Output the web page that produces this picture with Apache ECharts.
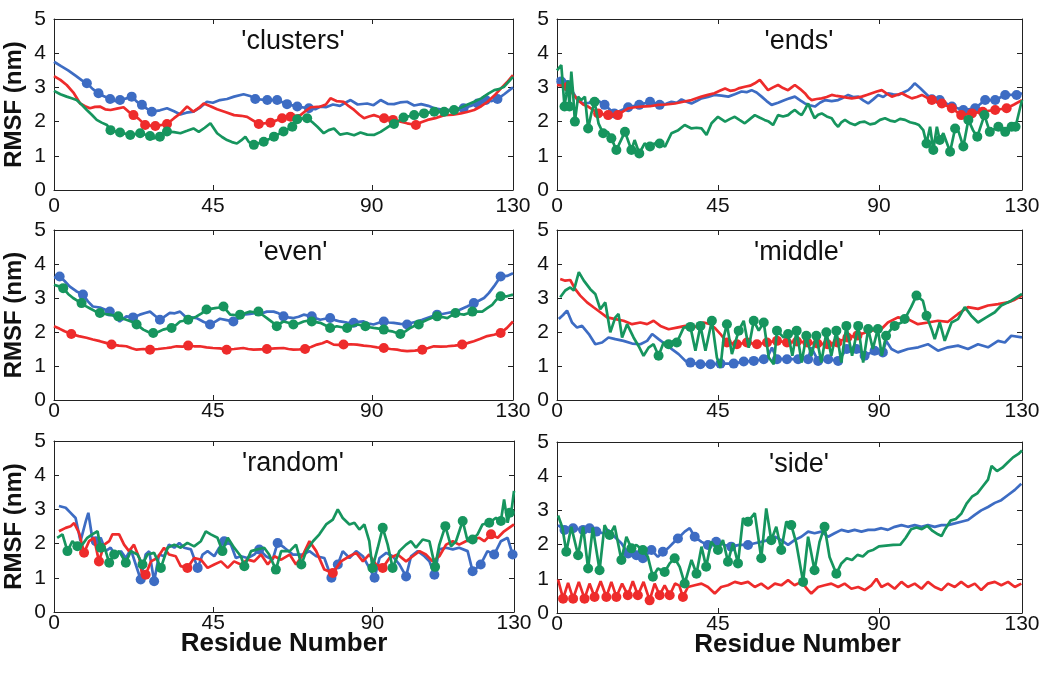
<!DOCTYPE html>
<html><head><meta charset="utf-8">
<script src="https://cdn.jsdelivr.net/npm/echarts@6/dist/echarts.min.js"></script>
<style>html,body{margin:0;padding:0;background:#fff}#c{width:1050px;height:673px}</style>
</head><body><div id="c"></div><script>
// ---- data: [residue, RMSF, marked(1)] ----
const panelTitles = ["'clusters'", "'ends'", "'even'", "'middle'", "'random'", "'side'"];
const xTickValues = [0, 45, 90, 130];
const yTickValues = [0, 1, 2, 3, 4, 5];

const clustersBlue = [[0,3.75],[2,3.62],[4,3.5],[6,3.35],[8,3.2],[9.3,3.12,1],[11,2.95],[12.6,2.83,1],[14,2.75],[15.9,2.66,1],[17.3,2.6],[18.7,2.63,1],[20.5,2.68],[22,2.73,1],[23.5,2.58],[24.9,2.49,1],[26.3,2.38],[27.7,2.29,1],[30,2.33],[32,2.39],[34,2.3],[35.8,2.21],[37.5,2.26],[39.5,2.29],[41.5,2.42],[43.3,2.58],[45,2.55],[47,2.63],[49,2.66],[51,2.73],[53.7,2.8],[55.5,2.75],[57,2.66,1],[60.4,2.63,1],[63.2,2.63,1],[66,2.51,1],[68.9,2.44,1],[72.2,2.39,1],[74,2.36],[75.5,2.44],[77,2.42],[79,2.5],[81,2.46],[82.5,2.55],[84,2.63],[86,2.5],[88.7,2.53],[90.5,2.48],[92.5,2.63],[94.5,2.52],[96.3,2.51],[98,2.56],[100,2.58],[102,2.47],[104,2.51],[106,2.46],[107.7,2.39],[109.5,2.36],[111.4,2.34],[113.5,2.36],[115,2.34],[116,2.39,1],[118,2.46],[120,2.53,1],[122.3,2.63,1],[124,2.6],[125.6,2.66,1],[127.5,2.8],[130,3.0]];
const clustersRed = [[0,3.33],[1.8,3.22],[3.6,3.07],[5.5,2.85],[7.4,2.53],[8.8,2.45],[10.2,2.39],[11.6,2.43],[13,2.44],[14.5,2.36],[16,2.34],[17.8,2.38],[19.7,2.42],[21,2.3],[22.5,2.19,1],[24,2.08],[25.8,1.9,1],[28.7,1.87,1],[32,1.93,1],[34,2.1],[35.8,2.24],[37.7,2.44],[39.5,2.29],[41,2.4],[42.4,2.53],[44.3,2.45],[46.2,2.36],[48.5,2.28],[51,2.19],[53,2.17],[54.7,2.14],[58,1.93,1],[61.3,1.97,1],[64.6,2.1,1],[67,2.14,1],[69.8,2.19],[71.5,2.33],[72.7,2.42],[75.5,2.44],[77,2.5],[78.3,2.68],[80,2.6],[82,2.58],[83.5,2.45],[85,2.34],[86.5,2.2],[87.8,2.1],[89.2,2.15],[90.6,2.19],[92,2.14],[93.5,2.1,1],[96,2.05,1],[98.2,2.0],[100,1.95],[102.5,1.9,1],[104,1.98],[105.8,2.05],[108,2.1],[110.5,2.19],[113,2.2],[115.2,2.24],[117,2.28],[119,2.34],[121,2.45],[122.8,2.58],[124.7,2.76],[126.6,2.97],[128.3,3.15],[130,3.36]];
const clustersGreen = [[0,2.9],[1.8,2.8],[3.6,2.73],[5,2.68],[6.4,2.63],[7.8,2.5],[9.3,2.34],[10.7,2.2],[12.1,2.05],[13.5,1.97],[15,1.9],[16,1.75,1],[18.7,1.68,1],[21.6,1.61,1],[24.4,1.66,1],[27.2,1.58,1],[28.2,1.51],[30,1.56,1],[32,1.71,1],[34,1.69],[35.8,1.66],[37.7,1.73],[39.5,1.8],[41,1.7],[42.7,1.82],[44.3,1.95],[46.2,1.66],[47.6,1.55],[49,1.46],[50.4,1.4],[51.8,1.36],[53,1.45],[54.2,1.56],[55.2,1.4],[56.6,1.32,1],[59.4,1.41,1],[62.3,1.56,1],[65,1.71,1],[67.5,1.85,1],[68.9,2.07,1],[71.7,2.1,1],[73.2,1.98],[74.6,1.85],[76.4,1.66],[77.8,1.75],[79.3,1.8],[81,1.62],[83,1.66],[85,1.6],[86.8,1.68],[88.7,1.62],[90.6,1.61],[92.5,1.7],[94,1.8],[95.4,1.9],[96.3,1.93,1],[99,2.12,1],[102,2.19,1],[104.8,2.24,1],[107.7,2.29,1],[110.5,2.29,1],[113.3,2.34,1],[115,2.4],[117,2.49],[119,2.58],[121,2.68],[123,2.82],[124.7,2.92],[126,2.95],[127.5,3.02],[130,3.31]];

const endsBlue = [[0,3.27],[1.2,3.17,1],[3,3.07,1],[4.5,2.85],[5.9,2.6],[7.5,2.53],[9,2.55],[10.5,2.68],[12,2.58],[13.3,2.49,1],[16,2.24,1],[19.9,2.42,1],[23,2.49,1],[26,2.58,1],[28.7,2.49,1],[30.5,2.52],[32,2.58],[33.5,2.55],[34.8,2.65],[36.2,2.58],[37.6,2.53],[39,2.6],[40.4,2.68],[42.2,2.72],[44,2.78],[46,2.76],[47.9,2.73],[49.7,2.8],[51.6,2.88],[53,2.86],[54.4,2.92],[55.8,2.85],[57.2,2.73],[58.6,2.6],[60,2.49],[61.8,2.55],[63.7,2.63],[65,2.68],[66.5,2.73],[68,2.62],[69.3,2.53],[70.7,2.48],[72.1,2.44],[73.5,2.55],[75,2.63],[76.8,2.6],[78.6,2.63],[80,2.7],[81.4,2.78],[82.8,2.72],[84.2,2.73],[85.6,2.62],[87,2.53],[88.4,2.65],[89.8,2.78],[91.2,2.72],[92.6,2.83],[94,2.8],[95.4,2.78],[96.8,2.85],[98.2,2.92],[99.2,3.02],[100,3.12],[101.5,2.98],[103,2.83],[104.8,2.65,1],[107,2.63,1],[110.4,2.44,1],[113.6,2.34,1],[116.9,2.39,1],[119.7,2.63,1],[122.5,2.63,1],[125.3,2.78,1],[128.5,2.78,1],[130,2.83]];
const endsRed = [[0,3.07],[1.5,3.05],[3,3.02,1],[4.5,2.8],[5.9,2.63],[7.3,2.5],[8.7,2.44],[10,2.35],[11.5,2.24,1],[14.3,2.19,1],[17,2.19,1],[18.5,2.3],[20,2.39],[21.8,2.42],[23.6,2.44],[26,2.45],[28.3,2.49],[30.5,2.5],[33,2.53],[35.3,2.58],[37.6,2.63],[39,2.68],[40.4,2.73],[42.2,2.78],[44,2.83],[45.5,2.9],[47,2.97],[48.4,2.9],[49.7,2.92],[51,2.98],[52.5,3.02],[54,3.05],[55.3,3.12],[56.7,3.22],[58,3.05],[59,2.92],[60.4,3.0],[61.8,3.07],[63.2,2.98],[64.6,2.92],[65.6,3.0],[66.5,3.07],[68,2.95],[69.3,2.83],[70.3,2.7],[71.2,2.63],[72.6,2.66],[74,2.68],[75.4,2.72],[76.8,2.78],[78.2,2.75],[79.6,2.73],[81,2.7],[82.4,2.68],[83.8,2.7],[85.2,2.73],[86.6,2.78],[88,2.83],[89.4,2.88],[90.8,2.92],[92.2,2.82],[93.6,2.73],[95,2.78],[96.4,2.83],[97.8,2.75],[99.2,2.68],[100.6,2.72],[102,2.78],[103.4,2.7],[104.8,2.63,1],[107.6,2.53,1],[110.4,2.39,1],[113,2.19,1],[116,2.24,1],[119,2.29,1],[122.5,2.34,1],[125.7,2.39,1],[127.8,2.5],[130,2.63]];
const endsGreen = [[0,3.5],[1.2,3.65],[2.1,2.44,1],[2.6,2.8],[3,3.2],[3.5,2.44,1],[4,3.46],[4.5,2.83],[5,2.0,1],[5.9,2.73],[6.8,2.63],[7.8,2.73],[8.7,1.8,1],[9.6,2.24],[10.5,2.58,1],[11.6,1.95],[12.9,1.66,1],[14.2,1.7],[15.2,1.51,1],[16.6,1.17,1],[17.9,1.46],[19,1.7,1],[20.8,1.17,1],[21.7,1.46],[23,1.07,1],[24.5,1.36],[26,1.27,1],[27.3,1.36],[28.7,1.36,1],[30.2,1.27],[32,1.66],[33.9,1.75],[35.7,1.9],[37.6,1.8],[39,1.82],[40.4,1.8],[41.8,1.61],[43.2,1.95],[45,2.14],[47,2.0],[48.4,2.08],[49.7,2.14],[51,2.05],[52.5,1.95],[54,2.08],[55.3,2.19],[56.6,2.12],[58,2.05],[59.2,2.0],[60.4,1.9],[61.8,2.19],[63.2,2.15],[64.6,2.19],[65.6,2.28],[66.5,2.34],[67.5,2.25],[68.4,2.19],[69.3,2.35],[70.2,2.53],[71.1,2.3],[72,2.1],[73,2.2],[74,2.24],[75.4,2.15],[76.8,2.1],[77.7,1.95],[78.6,1.85],[79.5,1.98],[80.5,2.05],[82,1.95],[83.3,1.9],[84.7,1.98],[86,2.0],[87.5,1.92],[88.9,1.95],[90.3,2.05],[91.7,2.1],[93.1,2.03],[94.5,2.0],[95.9,2.08],[97.3,2.05],[98.7,1.98],[100,1.95],[101.2,1.9],[102.4,1.75],[103.3,1.36,1],[104.3,1.85],[105.2,1.17,1],[106.2,1.85],[107,1.46,1],[108,1.66],[109.9,1.12,1],[111.3,1.8,1],[112.3,1.7],[113.6,1.27,1],[115,2.05,1],[116.3,1.75],[117.5,1.56,1],[119.5,2.19,1],[121,1.7,1],[122.2,1.78],[123.4,1.85,1],[125.3,1.7,1],[127.1,1.85,1],[128.2,1.85,1],[130,2.63]];

const evenBlue = [[0,3.6],[1.6,3.63,1],[3,3.5],[4.4,3.34],[6.3,3.2],[8.2,3.1,1],[9.6,2.9],[11,2.75],[13,2.72],[15.8,2.6,1],[17.2,2.45],[18.6,2.31],[20.5,2.46],[22.4,2.43,1],[24.3,2.51],[25.8,2.56],[27.2,2.6],[28.6,2.48],[30,2.36,1],[31.4,2.46],[32.8,2.56],[34.2,2.55],[35.7,2.6],[37.6,2.41],[39,2.43],[40.4,2.41],[42.3,2.3],[44.2,2.22,1],[45.6,2.3],[47,2.39],[48.9,2.35],[50.8,2.31,1],[52.2,2.4],[53.6,2.51],[55.5,2.53],[57.4,2.56],[58.9,2.55],[60.3,2.6],[62.2,2.6],[63.6,2.55],[65,2.46,1],[66.4,2.43],[67.8,2.41],[69.3,2.45],[70.7,2.51],[72,2.48],[73,2.46,1],[74.2,2.4],[75.4,2.36],[76.8,2.39],[78.2,2.41,1],[79.6,2.35],[81,2.31],[83,2.28],[84.9,2.27,1],[86.3,2.3],[87.7,2.31],[89.1,2.25],[90.5,2.22],[92,2.27],[93.4,2.31,1],[94.8,2.28],[96.2,2.27],[98.1,2.24],[100,2.22,1],[101.4,2.27],[102.8,2.31],[104.3,2.36],[105.7,2.41],[107.1,2.46],[108.5,2.51,1],[110,2.53],[111.4,2.56],[113.3,2.6],[115.1,2.66],[117,2.75],[118.9,2.85,1],[120.3,2.92],[121.8,3.0],[123.2,3.15],[124.6,3.34],[126.5,3.63,1],[128.3,3.65],[130,3.73]];
const evenRed = [[0,2.17],[1.5,2.1],[3,2.02],[4.9,1.94,1],[7,1.88],[9.2,1.83],[11,1.78],[13,1.73],[14.7,1.68],[16.3,1.63,1],[18.4,1.6],[20.5,1.58],[22,1.52],[23.4,1.48],[25.3,1.5],[27.2,1.48,1],[29.5,1.5],[31.9,1.53],[33.3,1.55],[34.7,1.58],[36.4,1.57],[38,1.6,1],[39.7,1.58],[41.3,1.58],[43.2,1.55],[45,1.53],[47,1.52],[48.9,1.48,1],[51,1.5],[53.6,1.53],[55,1.5],[56.5,1.48],[58.4,1.49],[60.3,1.5,1],[62.6,1.52],[65,1.53],[66.4,1.5],[67.8,1.48],[69.5,1.49],[71.1,1.5,1],[72.8,1.56],[74.5,1.63],[76,1.67],[77.3,1.73],[79.2,1.63],[80.6,1.62],[82,1.63,1],[84,1.64],[85.8,1.63],[87.7,1.6],[89.6,1.58],[91.5,1.55],[93.4,1.53,1],[95.3,1.5],[97.2,1.48],[98.6,1.45],[100,1.44],[102.2,1.45],[104.3,1.48,1],[106,1.53],[107.6,1.58],[109.5,1.57],[111.4,1.58],[113.5,1.6],[115.6,1.63,1],[117.3,1.68],[118.9,1.73],[120.8,1.8],[122.7,1.88],[124.6,1.92],[126.5,1.97,1],[128.3,2.12],[130,2.31]];
const evenGreen = [[0,3.39],[1.2,3.35],[2.6,3.29,1],[4,3.12],[5.4,3.0],[6.6,2.92],[7.8,2.85,1],[9,2.76],[10.1,2.7],[11.5,2.62],[13,2.56,1],[14.4,2.53],[15.8,2.51],[17,2.48],[18.2,2.46,1],[19.3,2.4],[20.5,2.36],[22,2.3],[23.4,2.22,1],[24.3,2.15],[25.3,2.07],[26.7,2.0],[28.1,1.97,1],[29.5,2.0],[30.9,2.07],[32.1,2.1],[33.3,2.12,1],[34.5,2.2],[35.7,2.31],[36.8,2.33],[38,2.36,1],[39.2,2.4],[40.4,2.46],[41.8,2.55],[43.2,2.66,1],[44.4,2.68],[45.6,2.7],[46.8,2.72],[48,2.75,1],[49,2.62],[49.9,2.51],[51.3,2.5],[52.7,2.51,1],[54.1,2.55],[55.5,2.6],[56.7,2.58],[57.9,2.6,1],[59.1,2.5],[60.3,2.41],[61.7,2.3],[63.1,2.17,1],[64,2.25],[65,2.31],[66.4,2.27],[67.8,2.22,1],[69.3,2.25],[70.7,2.31],[71.8,2.33],[73,2.31,1],[74.2,2.29],[75.4,2.27],[76.8,2.2],[78.2,2.12,1],[79.2,2.14],[80.1,2.17],[81.5,2.14],[83,2.12,1],[84.4,2.17],[85.8,2.22],[87,2.2],[88.2,2.17,1],[89.4,2.14],[90.5,2.12],[92,2.1],[93.4,2.07,1],[94.5,2.04],[95.7,2.02],[96.9,1.98],[98.1,1.94,1],[99.5,2.02],[100.9,2.12],[102.1,2.18],[103.3,2.22,1],[104.5,2.3],[105.7,2.36],[107.1,2.42],[108.5,2.46,1],[110,2.44],[111.4,2.41],[112.5,2.48],[113.7,2.56,1],[114.9,2.53],[116.1,2.51],[117.3,2.55],[118.5,2.6,1],[120,2.6],[121.3,2.6],[122.7,2.7],[124.1,2.8],[125.3,2.95],[126.5,3.05,1],[128.3,3.05],[130,3.1]];

const middleBlue = [[0.5,2.38],[1.7,2.5],[2.8,2.63],[4.2,2.28],[5.6,2.13],[7,2.18],[8.9,1.94],[10.7,1.64],[12.6,1.69],[14.4,1.84],[16.3,1.79],[18.6,1.74],[21,1.66],[23.3,1.64],[25.2,1.74],[26.6,1.94],[28.4,1.79],[30.3,1.64],[32.2,1.49],[34,1.35],[35.9,1.15],[37.3,1.1,1],[40.1,1.05,1],[42.9,1.05,1],[45.7,1.07,1],[49.4,1.07,1],[52.2,1.13,1],[55,1.15,1],[57.8,1.2,1],[59,1.3],[60.1,1.54],[61.5,1.2,1],[64.3,1.2,1],[67.4,1.2,1],[70.2,1.2,1],[71.1,1.55],[73,1.15,1],[75.8,1.2,1],[78.6,1.15,1],[81,1.5,1],[83.7,1.5,1],[86,1.3,1],[88.8,1.45,1],[91.1,1.4,1],[92,1.74],[93.5,1.5],[95.3,1.4],[98.1,1.5],[101,1.55],[103.7,1.64],[106.5,1.45],[109.3,1.55],[112.1,1.6],[114.9,1.5],[117.7,1.64],[120.5,1.55],[123.3,1.74],[125.2,1.69],[127,1.89],[130,1.84]];
const middleRed = [[0.9,3.56],[2.3,3.51],[3.7,3.53],[5.1,3.26],[6.5,3.07],[8.4,2.87],[10.3,2.72],[12.1,2.58],[14,2.43],[16.3,2.38],[18.6,2.33],[21,2.23],[23.3,2.28],[25.2,2.23],[27,2.33],[28.9,2.18],[31.2,2.08],[33.5,2.13],[35.9,2.18],[38.2,2.13],[41,2.28],[42.9,2.23],[44.3,2.1],[45.7,1.94],[47.5,1.69,1],[50.3,1.64,1],[53.1,1.69,1],[55.9,1.64,1],[58.7,1.69,1],[61.5,1.74,1],[64.3,1.69,1],[67.1,1.72,1],[70,1.69,1],[72.8,1.66,1],[75.6,1.64,1],[78.4,1.69,1],[81.2,1.84,1],[84,1.9,1],[85,1.94],[87.9,2.04],[90.7,2.09],[92.5,2.28],[95.3,2.43],[98.1,2.38],[100.9,2.23],[103.7,2.28],[106.5,2.33],[109.3,2.3],[112.1,2.53],[114.9,2.73],[117.7,2.68],[120.5,2.78],[123.3,2.82],[126,2.87],[128,2.95],[130,3.07]];
const middleGreen = [[0.9,3.02],[2.3,3.22],[3.7,3.31],[4.7,3.22],[6.1,3.76],[7.5,3.51],[9.3,3.26],[10.7,3.12],[12.1,2.67],[13.5,2.87],[14.9,1.99],[16.3,2.43],[17.2,2.53],[18.2,1.84],[19.6,2.23],[21.4,1.84],[22.8,1.59],[24.2,1.3],[25.6,1.54],[27,1.64],[28.4,1.3,1],[29.8,1.69],[31.2,1.64,1],[32.6,1.74],[33.5,1.69,1],[35.4,2.13],[37.3,2.15,1],[38.7,1.45],[40.1,2.18,1],[41.5,1.45],[43.3,2.33,1],[44.7,1.25],[45.7,0.95],[46.6,1.84],[47.5,2.23,1],[48.9,1.35],[50.8,2.04,1],[52.2,2.33],[53.6,1.54],[55,2.33,1],[56.4,2.04],[57.8,2.28,1],[59.2,1.25],[60.6,1.05],[61.5,2.04,1],[63.4,1.84],[64.6,1.94,1],[65.8,1.3],[67,2.04,1],[68.4,1.1],[69.7,1.89,1],[71.1,1.3],[72.5,1.89,1],[73.9,1.1],[75.3,1.99,1],[76.7,1.3],[78.1,2.04,1],[79.5,1.1],[80.9,2.18,1],[82.5,1.3],[84.2,2.18,1],[85.6,1.1],[87,2.09,1],[88.3,1.5],[89.7,2.09,1],[90.8,1.3],[92,1.89,1],[93.5,2.09],[94.4,2.18,1],[96.3,2.28],[97.2,2.38,1],[99,2.73],[100.5,3.07,1],[102.3,2.92],[103.3,2.48,1],[104.7,2.09],[105.6,1.79],[107,2.28],[108.4,1.74],[110.3,2.28],[112.1,2.38],[114,2.73],[115.8,2.48],[117.7,2.28],[120,2.43],[122.4,2.58],[124.2,2.78],[127,2.92],[130,3.12]];

const randomBlue = [[1.4,3.1],[3.3,3.05],[4.7,2.9],[6.1,2.75],[7.5,2.07],[9,2.66],[9.7,2.9],[10.8,2.17],[11.8,2.07,1],[13.2,2.17],[14.6,1.78],[16,1.88],[17.5,1.63],[18.9,1.78],[20.3,1.58],[21.7,1.83],[23.1,1.39],[24.5,0.95,1],[25.9,1.68],[26.9,1.78],[28.3,0.9,1],[29.7,1.68],[31.1,1.63],[32.5,1.97],[34,1.88],[35.4,2.02],[36.8,1.88],[38.7,1.83],[40.6,1.29,1],[42,1.68],[43.4,1.78],[45.3,1.63],[46.7,1.88],[48.1,2.07,1],[50,1.97],[51.4,1.58],[52.8,1.63],[54.7,1.58],[56.6,1.68],[58,1.83,1],[59.9,1.63],[61.8,1.53],[63.2,2.02,1],[65.1,1.88],[67.5,1.68],[70.4,1.68],[72.2,1.78],[74.1,1.63],[76.4,1.58],[78.4,1.0,1],[80.2,1.39,1],[81.6,1.78],[83.5,1.58],[85.4,1.78],[87.3,1.63],[89.1,1.29],[90.6,1.0,1],[92,1.58],[93.9,1.73],[95.7,1.63],[97.6,1.39],[99.5,1.04,1],[100.9,1.63],[102.8,1.78],[104.7,1.63],[106.1,1.48],[107.5,1.09,1],[108.9,1.83],[110.8,1.88],[112.7,1.83],[114.5,1.88],[116.9,1.78],[118.3,1.19,1],[120.6,1.39,1],[122.5,1.78],[124.4,1.68,1],[126.3,2.07],[128.2,2.17],[129.6,1.68,1]];
const randomRed = [[1.4,2.36],[3.3,2.46],[4.7,2.51],[5.7,2.6],[7.1,2.31],[8.5,1.73,1],[9.9,2.07],[11.3,2.17],[12.7,1.48,1],[14.2,1.97],[15.6,2.07],[16.5,2.27],[18.4,2.27],[19.8,1.97],[21.2,1.78],[22.6,1.97],[24.1,1.58],[25,1.04],[25.9,1.09,1],[27.4,1.48],[29.2,1.58],[31.1,1.88],[32.5,1.68],[34.4,1.63],[35.8,1.34],[37.7,1.29,1],[39.6,1.58],[41.5,1.53],[43.4,1.29],[45.3,1.39],[47.2,1.48],[49.1,1.29],[50.9,1.48],[52.8,1.39],[54.7,1.53],[56.6,1.48],[58.5,1.68],[60.4,1.39],[62.3,1.63],[64.2,1.53],[66.6,1.68],[68.4,1.39],[70.4,1.68],[72.2,2.07],[74.1,1.78],[76.4,1.24],[78.8,1.14,1],[81.1,1.48],[83.5,1.63],[85.4,1.73],[87.3,1.48],[89.1,1.68],[91,1.39],[92.9,1.29,1],[94.8,1.58],[97.1,1.68],[99.5,1.48],[101.4,1.63],[103.3,1.78],[105.1,1.68],[107,1.48],[108.9,1.63],[110.8,1.97],[112.7,2.07],[114.5,1.97],[116.4,2.07],[118.3,2.12],[120.2,2.17],[121.6,2.07],[123.5,2.27,1],[125.4,2.17],[127.2,2.36],[130,2.56]];
const randomGreen = [[0.9,2.17],[2.4,2.27],[3.8,1.78,1],[5.2,2.07],[6.6,1.92,1],[8,1.97],[9.4,2.17],[10.8,2.27],[12.3,2.36],[13.2,1.88,1],[14.2,1.92],[15.6,1.44,1],[17,1.68,1],[18.4,1.78],[20.3,1.44,1],[21.7,1.78],[23.6,1.68],[25,1.39,1],[26.4,1.68],[28.3,1.73],[30.2,1.29,1],[32.1,1.88],[34,1.97],[35.8,1.88],[37.7,2.02],[39.6,1.92],[41.5,2.07],[42.9,2.36],[44.3,2.27],[46.2,2.17],[47.6,1.78,1],[49.1,2.17],[50.9,1.88],[52.8,1.63],[53.8,1.34,1],[55.7,1.78],[57.5,1.83],[59.4,1.88],[60.8,1.68],[62.7,1.24,1],[64.2,1.78],[66.6,1.78],[68.4,1.97],[69.9,1.39,1],[71.3,1.78],[73.2,2.07],[75,2.27],[76.9,2.56],[78.8,2.7],[80.2,3.0],[81.6,2.75],[83.5,2.56],[84.9,2.61],[86.3,2.41],[87.7,2.56],[89.1,2.07],[90,1.29,1],[91.5,1.88],[92.9,2.46,1],[94.3,1.97],[95.7,1.29,1],[97.6,1.78],[99.5,1.97],[100.9,2.07],[102.3,1.88],[104.2,2.12],[106.1,2.07],[107.7,1.32,1],[108.9,1.97],[110.6,2.51,1],[112.2,1.92],[113.6,2.07],[115.5,2.66,1],[116.9,2.07],[118.3,2.12,1],[119.7,2.27],[121.1,2.56],[123,2.61,1],[124.9,2.75],[126.3,2.66,1],[127.2,3.29],[128.2,2.61],[128.8,2.9,1],[129.4,3.05],[130,3.54]];

const sideBlue = [[0.3,2.57],[2.1,2.43,1],[4.5,2.48,1],[7.3,2.43,1],[9.1,2.48,1],[11,2.38,1],[12.9,2.33],[14.3,2.43],[16.1,2.23],[18,2.04],[19.9,1.74,1],[22.2,1.69,1],[24,1.6,1],[26.4,1.84,1],[28.2,1.64],[29.6,1.79,1],[31,1.89],[32.4,2.04],[33.8,2.18,1],[35.7,2.38],[37.1,2.48],[38.5,2.23,1],[40.4,2.08],[42.2,1.99,1],[44.5,2.08,1],[46.9,1.99],[48.7,1.94,1],[51,1.99],[53.4,1.99,1],[55.3,2.04],[57.1,2.08],[59,2.13],[60.9,2.23],[62.7,2.13],[64.6,1.99],[66.4,2.13],[68.3,2.23],[70.2,2.38],[72,2.33],[73.9,2.38],[75.8,2.23],[77.6,2.33],[79.5,2.43],[81.4,2.38],[83.2,2.43],[85.1,2.38],[87,2.43],[88.8,2.43],[90.7,2.48],[92.5,2.43],[94.4,2.52],[96.3,2.57],[98.1,2.52],[100,2.57],[101.9,2.52],[103.7,2.57],[105.6,2.52],[107.5,2.57],[109.3,2.57],[111.2,2.62],[113,2.67],[114.9,2.72],[116.8,2.87],[118.6,3.0],[120.5,3.1],[122.4,3.22],[124.2,3.3],[126.1,3.45],[128,3.6],[129.8,3.78]];
const sideRed = [[0.3,0.98],[1.7,0.42,1],[3.1,0.88],[4.5,0.42,1],[6.1,0.91],[7.7,0.42,1],[9.1,0.86],[10.5,0.47,1],[12.2,0.93],[13.8,0.47,1],[15.2,0.91],[16.6,0.47,1],[18.2,0.86],[19.8,0.52,1],[21.2,0.93],[22.6,0.52,1],[24.2,0.91],[25.9,0.37,1],[27.3,0.86],[28.7,0.52,1],[30.1,0.81],[31.5,0.52,1],[33,0.86],[34.2,0.8],[35.2,0.47,1],[36.6,0.76],[38.5,0.81],[40.4,0.86],[42.2,0.76],[44.1,0.57],[45.9,0.76],[47.8,0.81],[49.7,0.91],[51.5,0.86],[53.4,0.91],[55.3,0.76],[57.1,0.86],[59,0.71],[60.9,0.86],[62.7,0.81],[64.6,0.96],[66.4,0.81],[68.3,0.91],[70.2,0.67],[71.1,0.57],[73,0.76],[74.8,0.81],[76.7,0.86],[78.6,0.76],[80.4,0.86],[82.3,0.71],[84.2,0.76],[86,0.67],[87.9,0.81],[89.3,1.0],[90.7,0.76],[92.5,0.86],[94.4,0.71],[96.3,0.91],[98.1,0.76],[100,0.86],[101.9,0.71],[103.7,0.91],[105.6,0.76],[107.5,0.67],[109.3,0.86],[111.2,0.76],[113,0.91],[114.9,0.76],[116.8,0.86],[118.6,0.67],[120.5,0.86],[122.4,0.91],[124.2,0.81],[126.1,0.91],[128,0.76],[129.8,0.86]];
const sideGreen = [[0.3,2.85],[1.5,2.5],[2.6,1.79,1],[4,2.52],[5.9,1.69,1],[7.3,2.52],[8.7,1.3,1],[10,2.5],[11.9,1.25,1],[13.3,2.57],[14.7,2.28,1],[16.1,2.55],[18,1.55,1],[19.4,2.23],[20.8,1.89,1],[22.2,1.99],[24,1.84,1],[25.4,1.64],[26.8,1.06,1],[28.2,1.3],[30.1,1.2,1],[31.5,1.45],[32.9,1.6,1],[34.3,1.35],[35.7,0.86,1],[37.6,1.55],[39,1.15,1],[40.4,1.94],[41.7,1.35,1],[43.1,2.08],[45,1.84,1],[46.4,2.13],[47.8,1.5,1],[49.2,2.04],[50.6,1.45,1],[52,2.77],[53.4,2.67,1],[55.3,2.92],[57.1,1.6,1],[58.5,3.06],[59.9,2.13,1],[61.3,2.52],[62.7,1.84,1],[64.1,2.67],[65.5,2.57,1],[66.9,2.04],[68.8,0.91,1],[70.2,2.23],[72,1.25,1],[73.4,2.08],[74.8,2.52,1],[76.2,1.64],[78.1,1.15,1],[79.5,1.45],[81,1.6],[82.5,1.55],[84,1.7],[85.5,1.65],[87,1.8],[88.5,1.85],[90,1.95],[92,1.97],[94,1.99],[96,2.0],[97.5,2.2],[99,2.45],[100.5,2.5],[102,2.45],[103.5,2.55],[105,2.4],[106.5,2.3],[107.5,2.25],[108.5,2.45],[110,2.7],[111.5,2.75],[113,2.9],[114.5,3.2],[116,3.4],[117.5,3.5],[119,3.7],[120.5,3.9],[121.5,4.3],[123,4.15],[124.5,4.25],[126,4.4],[127.5,4.55],[129,4.65],[130,4.75]];

const panelSeries = [
  [clustersBlue, clustersRed, clustersGreen],
  [endsBlue, endsRed, endsGreen],
  [evenBlue, evenRed, evenGreen],
  [middleBlue, middleRed, middleGreen],
  [randomBlue, randomRed, randomGreen],
  [sideBlue, sideRed, sideGreen]
];

// ---- layout & style ----
const COLORS = ['#3d6cc3', '#ee2b2b', '#16955e'];
const FONT = '"Liberation Sans", Arial, Helvetica, sans-serif';
const INK = '#111';
const grids = [
  {left: 54, top: 19, width: 459, height: 171},
  {left: 557, top: 19, width: 465, height: 171},
  {left: 54, top: 230, width: 459, height: 170},
  {left: 557, top: 230, width: 465, height: 170},
  {left: 54, top: 441, width: 460, height: 171},
  {left: 557, top: 442, width: 465, height: 171}
];
const titleCenters = [293, 799, 293, 799, 293, 799];
const xLabelMargins = [6, 6, 1, 1, 1, 1];

const xAxes = [], yAxes = [], series = [], graphics = [];
grids.forEach((g, i) => {
  const bottomRow = i >= 4, leftCol = i % 2 === 0;
  const axLine = {show: true, onZero: false, lineStyle: {color: '#222', width: 1}};
  const tick = {show: true, inside: true, length: 5, lineStyle: {color: '#222', width: 1}};
  xAxes.push({
    type: 'value', gridIndex: i, min: 0, max: 130, interval: 45, position: 'bottom',
    axisLine: axLine, axisTick: tick, splitLine: {show: false},
    axisLabel: {fontSize: 21, color: INK, fontFamily: FONT, margin: xLabelMargins[i], showMaxLabel: true, showMinLabel: true},
    name: bottomRow ? 'Residue Number' : '', nameLocation: 'middle', nameGap: 19, nameMoveOverlap: false,
    nameTextStyle: {fontSize: 26, fontWeight: 'bold', color: INK, fontFamily: FONT, padding: leftCol ? 0 : [0, 0, 0, 16]}
  });
  xAxes.push({
    type: 'value', gridIndex: i, min: 0, max: 130, interval: 45, position: 'top',
    axisLine: axLine, axisTick: tick, splitLine: {show: false}, axisLabel: {show: false}
  });
  yAxes.push({
    type: 'value', gridIndex: i, min: 0, max: 5, interval: 1, position: 'left',
    axisLine: axLine, axisTick: tick, splitLine: {show: false},
    axisLabel: {fontSize: 21, color: INK, fontFamily: FONT, margin: 8},
    name: leftCol ? 'RMSF (nm)' : '', nameLocation: 'middle', nameRotate: 90, nameGap: 28, nameMoveOverlap: false,
    nameTextStyle: {fontSize: 24, fontWeight: 'bold', color: INK, fontFamily: FONT}
  });
  yAxes.push({
    type: 'value', gridIndex: i, min: 0, max: 5, interval: 1, position: 'right',
    axisLine: axLine, axisTick: tick, splitLine: {show: false}, axisLabel: {show: false}
  });
  panelSeries[i].forEach((data, k) => {
    const color = COLORS[k];
    series.push({
      type: 'line', xAxisIndex: 2 * i, yAxisIndex: 2 * i,
      data: data.map(p => [p[0], p[1]]), showSymbol: false, symbol: 'none',
      lineStyle: {color, width: 2.7}, itemStyle: {color}, z: 2 + k, silent: true
    });
    series.push({
      type: 'scatter', xAxisIndex: 2 * i, yAxisIndex: 2 * i,
      data: data.filter(p => p[2] === 1).map(p => [p[0], p[1]]),
      symbol: 'circle', symbolSize: 10, itemStyle: {color, opacity: 1}, z: 2 + k, silent: true
    });
  });
  graphics.push({
    type: 'text', x: titleCenters[i], y: g.top + 9, z: 100,
    style: {text: panelTitles[i], fill: INK, font: '27px ' + FONT, align: 'center', textAlign: 'center', verticalAlign: 'top', textVerticalAlign: 'top'}
  });
});

const chart = echarts.init(document.getElementById('c'), null, {renderer: 'canvas'});
chart.setOption({
  animation: false,
  backgroundColor: '#fff',
  grid: grids,
  xAxis: xAxes,
  yAxis: yAxes,
  series: series,
  graphic: graphics
});
</script></body></html>
